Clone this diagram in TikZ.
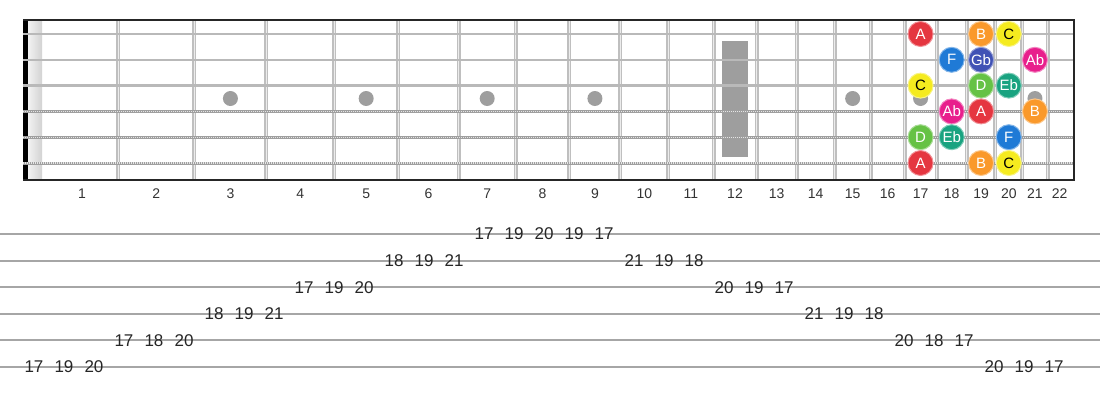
\documentclass[tikz,border=0pt]{standalone}
\usepackage{fontspec}
\setmainfont{Liberation Sans}
\usetikzlibrary{positioning}
\definecolor{noteA}{rgb}{0.90,0.21,0.25}
\definecolor{noteB}{rgb}{0.98,0.60,0.17}
\definecolor{noteC}{rgb}{0.96,0.92,0.12}
\definecolor{noteD}{rgb}{0.40,0.76,0.27}
\definecolor{noteEb}{rgb}{0.10,0.64,0.50}
\definecolor{noteF}{rgb}{0.12,0.48,0.84}
\definecolor{noteGb}{rgb}{0.25,0.32,0.71}
\definecolor{noteAb}{rgb}{0.91,0.12,0.55}
\definecolor{boardC}{rgb}{0.62,0.62,0.62}
\tikzset{
  notedot/.style={circle,minimum size=25pt,inner sep=0pt,fill=#1,draw=#1!55!white,line width=1pt,font=\fontsize{15}{15}\selectfont},
  fretnum/.style={font=\fontsize{14}{14}\selectfont,text=black!80},
  tabnum/.style={font=\fontsize{17}{17}\selectfont,text=black!85,inner sep=1pt}
}

\begin{document}
\begin{tikzpicture}[x=1pt,y=-1pt]
        \newcommand\fretPos[1]{(38+1437*(1-2^(-(#1)/12)))}
        \useasboundingbox (0,0) rectangle (1100,400);
        % nut
        \fill[black] (23,20) rectangle (28,180);
        \shade[left color=gray!10,right color=gray!35] (28,20) rectangle (42,180);
        % frets
        \foreach \n in {1,...,21}{
          \pgfmathsetmacro\fx{\fretPos{\n}}
          \draw[gray!50,line width=4pt] (\fx,20) -- (\fx,180);
          \draw[white!85!gray,line width=1.2pt] (\fx,20) -- (\fx,180);
        }
        % inlays
        \foreach \n in {3,5,7,9,15,17,21}{
          \pgfmathsetmacro\mx{(\fretPos{\n-1}+\fretPos{\n})/2}
          \fill[boardC] (\mx,98.5) circle (7.5);
        }
        \pgfmathsetmacro\mx{(\fretPos{11}+\fretPos{12})/2}
        \fill[boardC] (\mx-13,41) rectangle (\mx+13,157);
        % strings
        \foreach \s in {1,2,3}{
          \draw[gray!55,line width=2.5pt] (23,34+25.8*\s-25.8) -- (1073,34+25.8*\s-25.8);
        }
        \foreach \s in {4,5,6}{
          \draw[gray!75,line width=3pt] (23,34+25.8*\s-25.8) -- (1073,34+25.8*\s-25.8);
          \draw[white!80!gray,line width=1.2pt,dash pattern=on 1pt off 1pt] (23,34+25.8*\s-25.8) -- (1073,34+25.8*\s-25.8);
        }
        % border
        \draw[black!85,line width=2pt] (23,20) -- (1074,20) -- (1074,180) -- (23,180);
        % fret numbers
        \foreach \n in {1,...,22}{
          \pgfmathsetmacro\mx{\n==1 ? 82 : (\fretPos{\n-1}+\fretPos{\n})/2}
          \node[fretnum] (f\n) at (\mx,194) {\n};
        }
        % notes
        \foreach \f/\s/\nm/\tc in {17/1/A/white,19/1/B/white,20/1/C/black,
            18/2/F/white,19/2/Gb/white,21/2/Ab/white,
            17/3/C/black,19/3/D/white,20/3/Eb/white,
            18/4/Ab/white,19/4/A/white,21/4/B/white,
            17/5/D/white,18/5/Eb/white,20/5/F/white,
            17/6/A/white,19/6/B/white,20/6/C/black}{
          \pgfmathsetmacro\mx{(\fretPos{\f-1}+\fretPos{\f})/2}
          \node[notedot=note\nm,text=\tc] (n\s-\f) at (\mx,34+25.8*\s-25.8) {\nm};
        }
        % tab staff
        \foreach \s in {1,...,6}{
          \coordinate (tl\s) at (0,234+26.6*\s-26.6);
          \coordinate (tr\s) at (1100,234+26.6*\s-26.6);
          \draw[gray!70,line width=2pt] (tl\s) -- (tr\s);
        }
        \foreach \k/\s/\f in {0/6/17,1/6/19,2/6/20,3/5/17,4/5/18,5/5/20,
            6/4/18,7/4/19,8/4/21,9/3/17,10/3/19,11/3/20,
            12/2/18,13/2/19,14/2/21,15/1/17,16/1/19,17/1/20,18/1/19,19/1/17,
            20/2/21,21/2/19,22/2/18,23/3/20,24/3/19,25/3/17,
            26/4/21,27/4/19,28/4/18,29/5/20,30/5/18,31/5/17,
            32/6/20,33/6/19,34/6/17}{
          \node[tabnum] (t\k) at (34+30*\k,234+26.6*\s-26.6) {\f};
        }
\end{tikzpicture}
\end{document}
